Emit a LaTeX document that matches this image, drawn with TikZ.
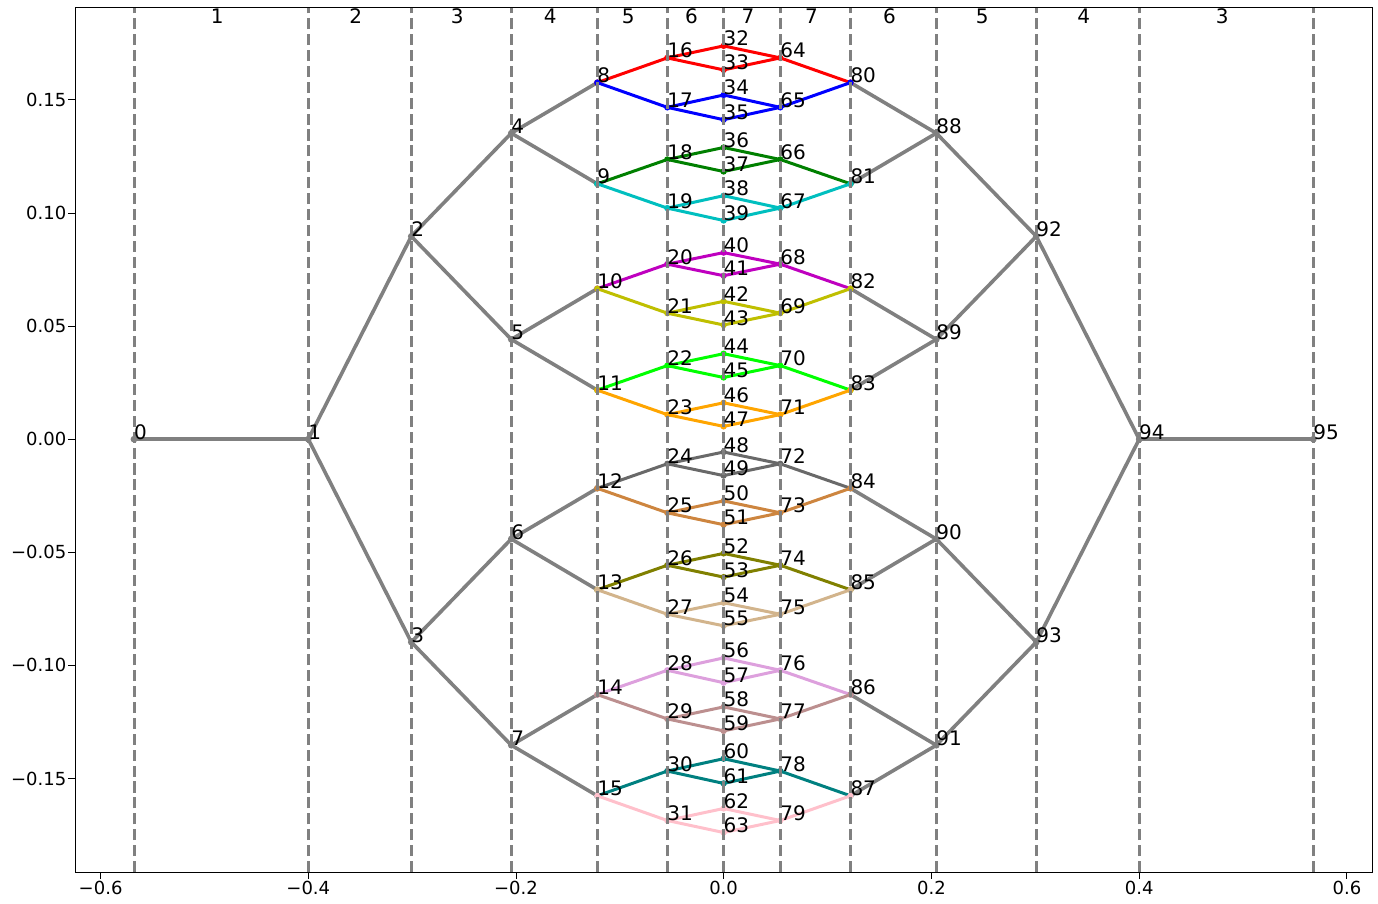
\documentclass[tikz,border=0pt]{standalone}
\usepackage{fontspec}
\setmainfont{DejaVu Sans}
\definecolor{cR}{rgb}{1,0,0}
\definecolor{cB}{rgb}{0,0,1}
\definecolor{cG}{rgb}{0,0.5,0}
\definecolor{cC}{rgb}{0,0.75,0.75}
\definecolor{cM}{rgb}{0.75,0,0.75}
\definecolor{cY}{rgb}{0.75,0.75,0}
\definecolor{cLime}{rgb}{0,1,0}
\definecolor{cOr}{rgb}{1,0.647,0}
\definecolor{cDim}{rgb}{0.412,0.412,0.412}
\definecolor{cPeru}{rgb}{0.804,0.522,0.247}
\definecolor{cOl}{rgb}{0.5,0.5,0}
\definecolor{cTan}{rgb}{0.824,0.706,0.549}
\definecolor{cPlum}{rgb}{0.867,0.627,0.867}
\definecolor{cRosy}{rgb}{0.737,0.561,0.561}
\definecolor{cTeal}{rgb}{0,0.5,0.5}
\definecolor{cPink}{rgb}{1,0.753,0.796}
\definecolor{cGray}{rgb}{0.5,0.5,0.5}
\begin{document}
\begin{tikzpicture}[x=1pt,y=-1pt,
  gedge/.style={draw=cGray,line width=3.6pt,line cap=round,line join=round},
  cedge/.style={line width=3pt,line cap=round,line join=round},
  vdash/.style={draw=cGray,line width=3pt,dash pattern=on 11.1pt off 4.8pt},
  lab/.style={anchor=base west,inner sep=0pt,outer sep=0pt,font=\fontsize{20}{24}\selectfont},
  toplab/.style={anchor=base,inner sep=0pt,font=\fontsize{20}{24}\selectfont},
  ticklab/.style={inner sep=0pt,font=\fontsize{18}{22}\selectfont},
  frame/.style={draw=black,line width=1pt}]
\useasboundingbox (0,0) rectangle (1378,904);
% ---- node positions ----
\coordinate (n0) at (134,439.2);
\coordinate (n1) at (308.3,439.2);
\coordinate (n2) at (411.3,236.3);
\coordinate (n3) at (411.3,642.1);
\foreach \yy [count=\i from 4] in {133.2,339.4,539.0,745.2}
  {\coordinate (n\i) at (511.3,\yy);}
\foreach \yy [count=\i from 8] in {82.6,183.8,288.65,390.1,488.3,589.75,694.6,795.8}
  {\coordinate (n\i) at (597.3,\yy);}
\foreach \yy [count=\i from 16] in {57.9,107.35,159.5,208.1,264.15,313.15,365.6,414.6,463.8,512.8,565.25,614.25,670.3,718.9,771.05,820.5}
  {\coordinate (n\i) at (667.3,\yy);}
\foreach \yy [count=\i from 32] in {45.9,69.9,95.0,119.7,147.5,171.5,195.7,220.5,252.6,275.7,301.3,325.0,353.7,377.5,402.8,426.4,452.0,475.6,500.9,524.7,553.4,577.1,602.7,625.8,657.9,682.7,706.9,730.9,758.7,783.4,808.5,832.5}
  {\coordinate (n\i) at (723.6,\yy);}
\foreach \yy [count=\i from 64] in {57.9,107.35,159.5,208.1,264.15,313.15,365.6,414.6,463.8,512.8,565.25,614.25,670.3,718.9,771.05,820.5}
  {\coordinate (n\i) at (780.3,\yy);}
\foreach \yy [count=\i from 80] in {82.6,183.8,288.65,390.1,488.3,589.75,694.6,795.8}
  {\coordinate (n\i) at (850.5,\yy);}
\foreach \yy [count=\i from 88] in {133.2,339.4,539.0,745.2}
  {\coordinate (n\i) at (936.3,\yy);}
\coordinate (n92) at (1036.3,236.3);
\coordinate (n93) at (1036.3,642.1);
\coordinate (n94) at (1139.2,439.2);
\coordinate (n95) at (1313.3,439.2);
% ---- gray edges ----
\foreach \u/\v in {0/1,1/2,1/3,2/4,2/5,3/6,3/7,4/8,4/9,5/10,5/11,6/12,6/13,7/14,7/15,
  80/88,81/88,82/89,83/89,84/90,85/90,86/91,87/91,88/92,89/92,90/93,91/93,92/94,93/94,94/95}
  {\draw[gedge] (n\u) -- (n\v);}
\foreach \k in {0,...,7,88,89,90,91,92,93,94,95}
  {\fill[cGray] (n\k) circle (3.4);}
% ---- coloured edges ----
\foreach \g/\cl in {0/cR,1/cB,2/cG,3/cC,4/cM,5/cY,6/cLime,7/cOr,8/cDim,9/cPeru,10/cOl,11/cTan,12/cPlum,13/cRosy,14/cTeal,15/cPink}{
  \pgfmathtruncatemacro\pa{8+div(\g,2)}
  \pgfmathtruncatemacro\mi{16+\g}
  \pgfmathtruncatemacro\la{32+2*\g}
  \pgfmathtruncatemacro\lb{33+2*\g}
  \pgfmathtruncatemacro\ri{64+\g}
  \pgfmathtruncatemacro\rj{80+div(\g,2)}
  \draw[cedge,draw=\cl] (n\pa) -- (n\mi) -- (n\la) -- (n\ri) -- (n\rj);
  \draw[cedge,draw=\cl] (n\mi) -- (n\lb) -- (n\ri);
  \foreach \k in {\pa,\mi,\la,\lb,\ri,\rj} {\fill[\cl] (n\k) circle (3.2);}
}
% ---- dashed layer lines ----
\foreach \xx in {134,308.3,411.3,511.3,597.3,667.3,723.6,780.3,850.5,936.3,1036.3,1139.2,1313.3}
  {\draw[vdash] (\xx,872) -- (\xx,7.3);}
% ---- layer numbers ----
\foreach \xx/\t in {217.2/1,355.8/2,457.3/3,550.3/4,628.3/5,691.5/6,748/7,811.4/7,889.4/6,982.3/5,1083.8/4,1222.3/3}
  {\node[toplab] at (\xx,24) {\t};}
% ---- node labels ----
\foreach \i in {0,...,95} {\node[lab] (t\i) at (n\i) {\i};}
% ---- axes frame and ticks ----
\draw[frame] (75,7.3) rectangle (1372,872);
\foreach \xx/\t in {100.6/−0.6,308.3/−0.4,516.0/−0.2,723.6/0.0,931.5/0.2,1139.2/0.4,1346.9/0.6}{
  \draw[line width=1pt] (\xx,872) -- (\xx,879);
  \node[ticklab,anchor=base] at (\xx,894) {\t};
}
\foreach \yy/\t in {100.0/0.15,213.1/0.10,326.2/0.05,439.2/0.00,552.3/−0.05,665.3/−0.10,778.4/−0.15}{
  \draw[line width=1pt] (75,\yy) -- (68,\yy);
  \node[ticklab,anchor=base east] at (66.5,\yy+6.6) {\t};
}
\end{tikzpicture}
\end{document}
